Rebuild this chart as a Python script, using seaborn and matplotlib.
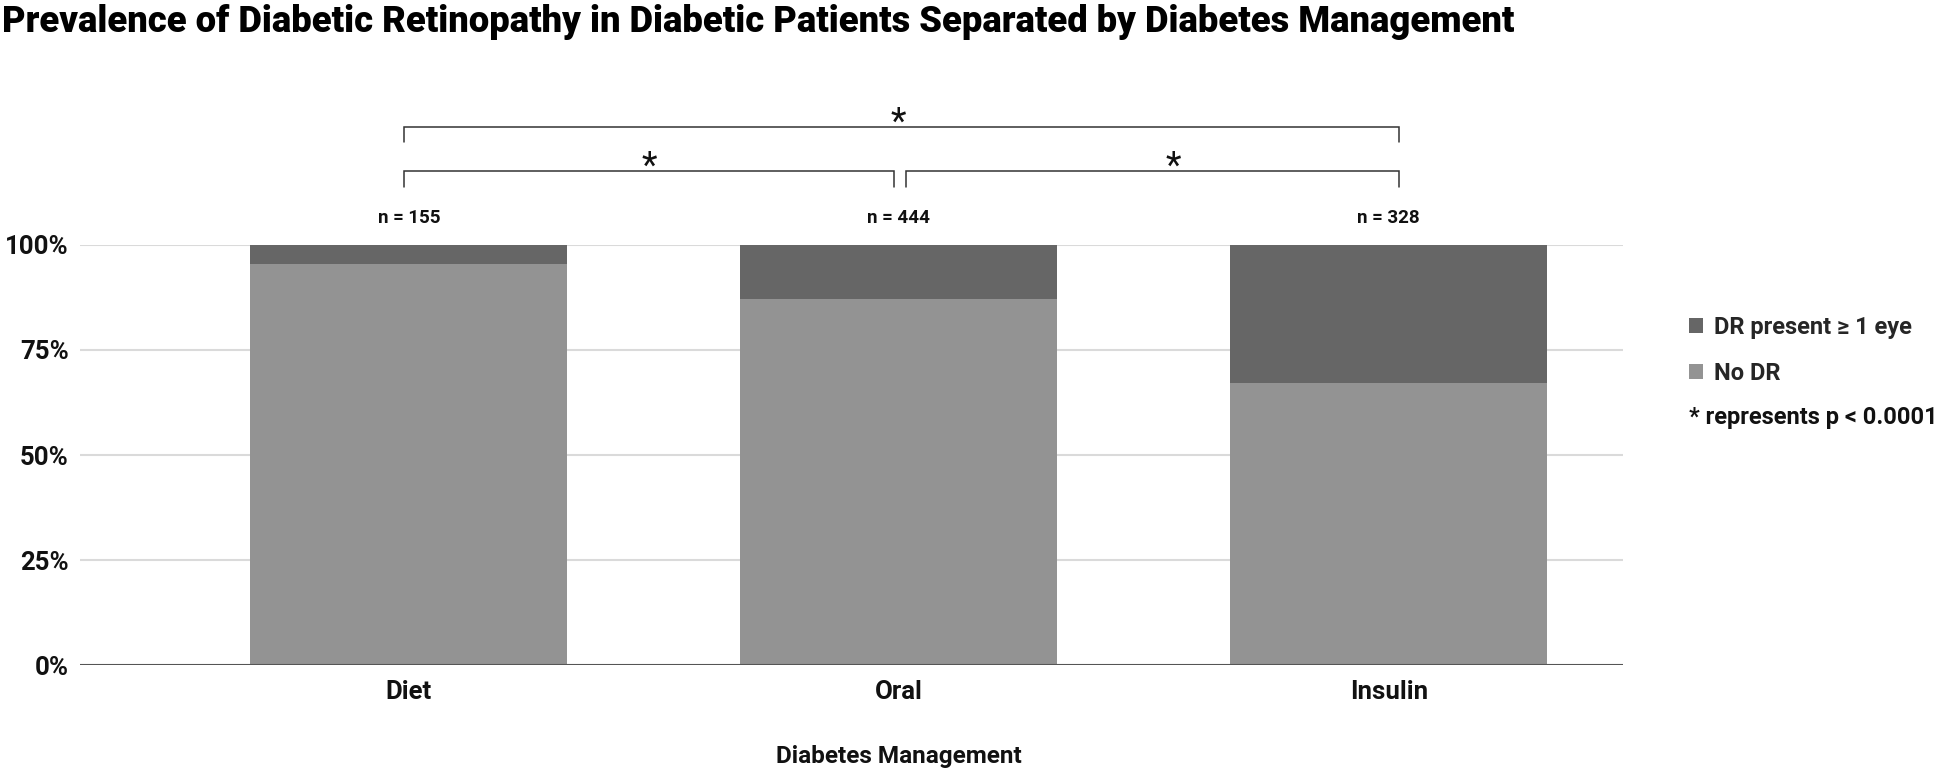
import numpy as np
import matplotlib
matplotlib.use("Agg")
import matplotlib.pyplot as plt
import seaborn as sns
from matplotlib.patches import Patch
from matplotlib.ticker import PercentFormatter

# data
categories = ["Diet", "Oral", "Insulin"]
no_dr = [95.5, 87.1, 67.1]          # % of patients without DR
dr_present = [4.5, 12.9, 32.9]      # % with DR in at least one eye
n_patients = [155, 444, 328]
y_ticks = [0, 25, 50, 75, 100]

# pairwise comparisons: bracket start, end, height (%), star x
comparisons = [(-0.01, 2.02, 128, 1.0),
               (-0.01, 0.99, 117.5, 0.49),
               (1.015, 2.02, 117.5, 1.56)]

DARK = "#666666"
LIGHT = "#939393"
GRID = "#dadada"
TEXT = "#111111"

sns.set_theme(style="white")
plt.rcParams["font.family"] = ["Roboto", "DejaVu Sans"]
plt.rcParams["font.weight"] = "bold"

fig = plt.figure(figsize=(19.46, 7.75), dpi=100)
ax = fig.add_axes([0.0411, 0.1419, 0.7929, 0.542])

totals = np.array(no_dr) + np.array(dr_present)
ax.set_axisbelow(True)
for y in y_ticks[1:]:
    ax.axhline(y, color=GRID, lw=1.5, zorder=0)

sns.barplot(x=categories, y=totals, color=DARK, width=0.647, saturation=1,
            linewidth=0, edgecolor="none", ax=ax, zorder=2)
sns.barplot(x=categories, y=no_dr, color=LIGHT, width=0.647, saturation=1,
            linewidth=0, edgecolor="none", ax=ax, zorder=3)

ax.axhline(0, color="#555555", lw=1.5, zorder=4)
ax.set_xlim(-0.671, 2.478)
ax.set_ylim(0, 100)
ax.set_yticks(y_ticks)
ax.yaxis.set_major_formatter(PercentFormatter(decimals=0))
ax.tick_params(axis="y", length=0, pad=8, labelsize=18.5, colors=TEXT)
ax.tick_params(axis="x", length=0, pad=11, labelsize=18.5, colors=TEXT)
for lab in ax.get_xticklabels() + ax.get_yticklabels():
    lab.set_fontweight("bold")
for spine in ax.spines.values():
    spine.set_visible(False)

ax.set_ylabel("")
ax.set_xlabel("Diabetes Management", fontsize=17.5, fontweight="bold", color=TEXT)
ax.xaxis.set_label_coords(0.531, -0.19)

# sample sizes above bars
for i, n in enumerate(n_patients):
    ax.text(i, 106.4, f"n = {n}", ha="center", va="center", fontsize=13.5,
            fontweight="bold", color=TEXT, clip_on=False)

# significance brackets
for a, b, h, sx in comparisons:
    ax.plot([a, a, b, b], [h - 3.6, h, h, h - 3.6], color="#333333", lw=1.1,
            clip_on=False, solid_joinstyle="miter")
    ax.text(sx, h + 1.1, "*", ha="center", va="center", fontsize=26,
            fontweight="normal", color=TEXT, clip_on=False)

handles = [Patch(facecolor=DARK, edgecolor="none", label="DR present \u2265 1 eye"),
           Patch(facecolor=LIGHT, edgecolor="none", label="No DR")]
fig.legend(handles=handles, loc="center left", bbox_to_anchor=(0.868, 0.548),
           frameon=False, prop={"weight": "bold", "size": 17},
           handlelength=0.6, handleheight=0.6, handletextpad=0.45,
           labelspacing=0.95, borderpad=0, borderaxespad=0)
fig.text(0.868, 0.461, "* represents p < 0.0001", ha="left", va="center",
         fontsize=17, fontweight="bold", color=TEXT)

fig.text(0.001, 0.995, "Prevalence of Diabetic Retinopathy in Diabetic Patients "
         "Separated by Diabetes Management", ha="left", va="top",
         fontsize=26.2, fontweight="black", color="#000000")

fig.savefig("out.png", dpi=100, facecolor="white")
